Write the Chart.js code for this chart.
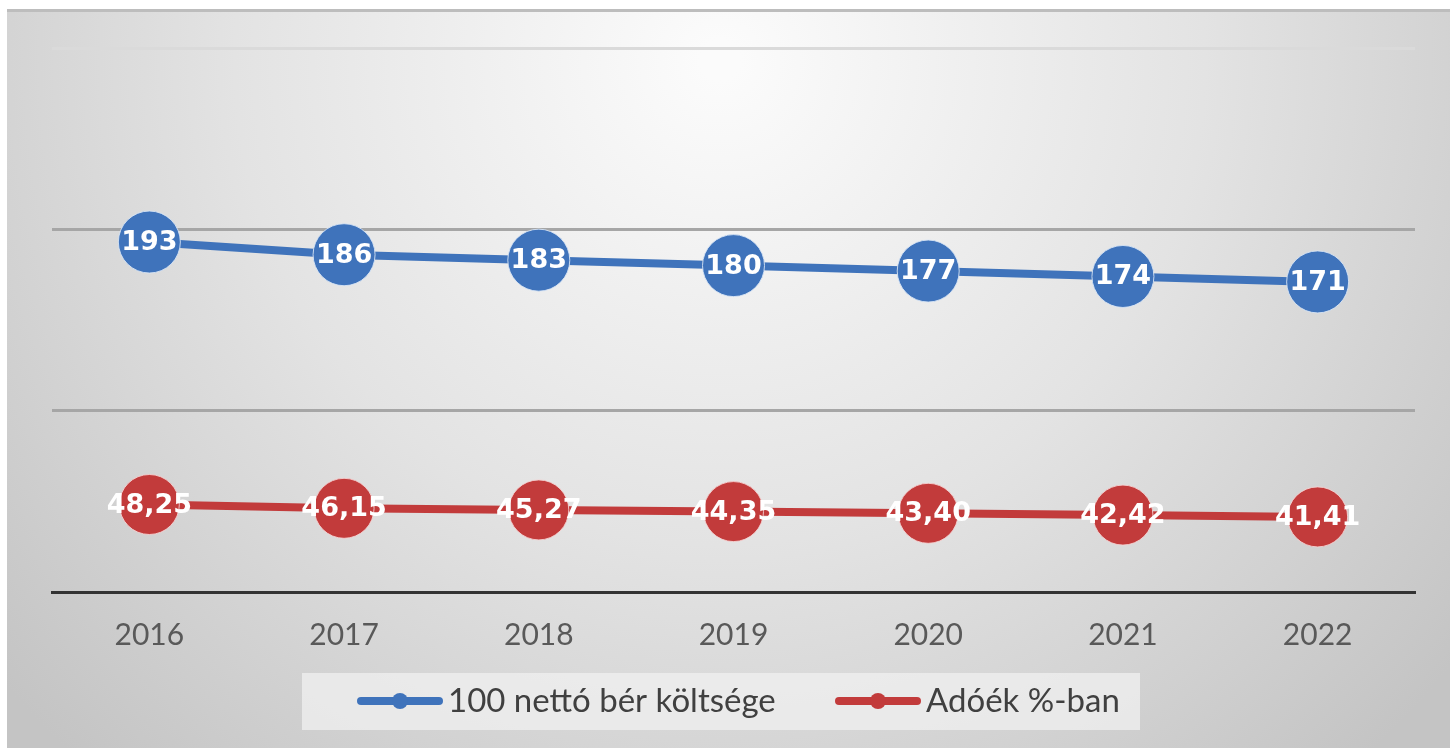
<!DOCTYPE html>
<html>
<head>
<meta charset="utf-8">
<script src="https://cdn.jsdelivr.net/npm/chart.js@4/dist/chart.umd.min.js"></script>
<style>
  html, body { margin: 0; padding: 0; background: #ffffff; }
  #wrap { width: 1450px; height: 748px; position: relative; }
</style>
</head>
<body>
<div id="wrap"><canvas id="chart"></canvas></div>
<script>
  const years = ["2016", "2017", "2018", "2019", "2020", "2021", "2022"];
  const costOf100Net = [193, 186, 183, 180, 177, 174, 171];
  const taxWedgePct = [48.25, 46.15, 45.27, 44.35, 43.40, 42.42, 41.41];
  const seriesNames = ["100 nettó bér költsége", "Adóék %-ban"];

  const blue = "#3f73bb";
  const red = "#c23b3b";

  // gradient background like the office chart area
  const backgroundPlugin = {
    id: "bg",
    beforeDraw(chart) {
      const ctx = chart.ctx;
      ctx.save();
      const g = ctx.createRadialGradient(720, 60, 20, 720, 60, 950);
      g.addColorStop(0, "#fbfbfb");
      g.addColorStop(0.5, "#e3e3e3");
      g.addColorStop(1, "#c4c4c4");
      ctx.fillStyle = g;
      ctx.fillRect(7, 9, 1443, 739);
      ctx.fillStyle = "#bdbdbd";
      ctx.fillRect(7, 9, 1443, 3);
      ctx.restore();
    }
  };

  // white value labels on top of the points
  const valueLabels = {
    id: "valueLabels",
    afterDatasetsDraw(chart) {
      const ctx = chart.ctx;
      ctx.save();
      ctx.fillStyle = "#ffffff";
      ctx.font = "bold 27px 'DejaVu Sans'";
      ctx.textAlign = "center";
      ctx.textBaseline = "middle";
      chart.data.datasets.forEach((ds, di) => {
        const meta = chart.getDatasetMeta(di);
        meta.data.forEach((pt, i) => {
          const v = ds.data[i];
          const txt = di === 0 ? String(v) : v.toFixed(2).replace(".", ",");
          ctx.fillText(txt, pt.x, pt.y + 1);
        });
      });
      ctx.restore();
    }
  };

  // legend box with line + dot markers
  const customLegend = {
    id: "customLegend",
    afterDraw(chart) {
      const ctx = chart.ctx;
      ctx.save();
      ctx.fillStyle = "rgba(240,240,240,0.75)";
      ctx.fillRect(302, 673, 838, 57);
      ctx.font = "33px Lato";
      ctx.textBaseline = "middle";
      ctx.textAlign = "left";
      const starts = [357, 835];
      chart.data.datasets.forEach((ds, di) => {
        const x = starts[di];
        const y = 701;
        ctx.strokeStyle = ds.borderColor;
        ctx.lineWidth = 8;
        ctx.lineCap = "round";
        ctx.beginPath();
        ctx.moveTo(x + 4, y);
        ctx.lineTo(x + 82, y);
        ctx.stroke();
        ctx.fillStyle = ds.borderColor;
        ctx.beginPath();
        ctx.arc(x + 43, y, 8, 0, Math.PI * 2);
        ctx.fill();
        ctx.fillStyle = "#404040";
        ctx.fillText(ds.label, x + 91, y);
      });
      ctx.restore();
    }
  };

  new Chart(document.getElementById("chart"), {
    type: "line",
    data: {
      labels: years,
      datasets: [
        {
          label: seriesNames[0],
          data: costOf100Net,
          borderColor: blue,
          backgroundColor: blue,
          borderWidth: 8,
          pointRadius: 31,
          pointBackgroundColor: blue,
          pointBorderColor: "rgba(215,228,245,0.9)",
          pointBorderWidth: 1,
          tension: 0
        },
        {
          label: seriesNames[1],
          data: taxWedgePct,
          borderColor: red,
          backgroundColor: red,
          borderWidth: 8,
          pointRadius: 30,
          pointBackgroundColor: red,
          pointBorderColor: "rgba(245,210,210,0.9)",
          pointBorderWidth: 1,
          tension: 0
        }
      ]
    },
    options: {
      responsive: true,
      maintainAspectRatio: false,
      animation: false,
      layout: { padding: { left: 52, right: 35, top: 48, bottom: 0 } },
      plugins: {
        legend: { display: false },
        tooltip: { enabled: false }
      },
      scales: {
        x: {
          offset: true,
          grid: { display: false },
          border: { display: true, color: "#333333", width: 3 },
          ticks: {
            color: "#595959",
            font: { family: "Lato", size: 30 },
            padding: 17
          },
          afterFit(scale) { scale.height = 156; }
        },
        y: {
          min: 0,
          max: 300,
          ticks: { display: false, stepSize: 100 },
          border: { display: false },
          grid: {
            drawTicks: false,
            lineWidth: 3,
            color: (c) => c.tick && c.tick.value === 300 ? "#dadada" : "#a6a6a6"
          },
          afterFit(scale) { scale.width = 0; }
        }
      }
    },
    plugins: [backgroundPlugin, valueLabels, customLegend]
  });
</script>
</body>
</html>
